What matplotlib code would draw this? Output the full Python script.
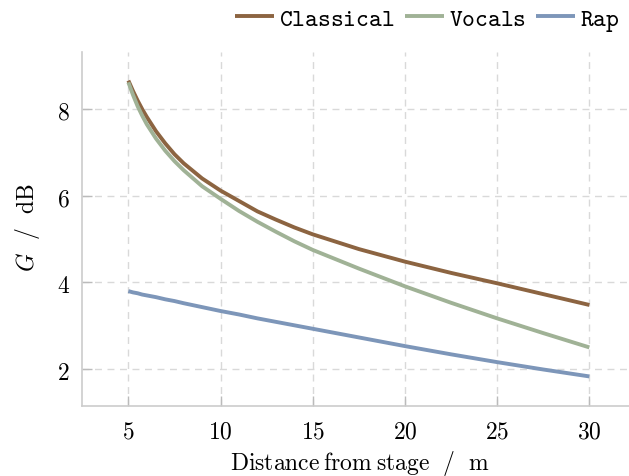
import matplotlib
matplotlib.use("Agg")
import matplotlib.pyplot as plt

plt.rcParams["mathtext.fontset"] = "cm"

# Distance from the stage (m)
distance = [5, 5.25, 5.5, 5.75, 6, 6.5, 7, 7.5, 8, 9, 10, 11, 12, 13, 14, 15,
            17.5, 20, 22.5, 25, 27.5, 30]

# Strength G (dB) per programme type
classical = [8.66, 8.42, 8.20, 8.00, 7.82, 7.49, 7.21, 6.96, 6.75, 6.40, 6.12,
             5.88, 5.64, 5.45, 5.27, 5.11, 4.77, 4.48, 4.22, 3.98, 3.73, 3.48]
vocals = [8.62, 8.33, 8.07, 7.85, 7.65, 7.32, 7.04, 6.80, 6.59, 6.22, 5.93,
          5.65, 5.40, 5.17, 4.95, 4.75, 4.32, 3.91, 3.53, 3.17, 2.83, 2.50]
rap = [3.80, 3.77, 3.75, 3.72, 3.70, 3.66, 3.61, 3.57, 3.52, 3.43, 3.34,
       3.26, 3.17, 3.09, 3.01, 2.93, 2.73, 2.53, 2.34, 2.16, 1.99, 1.83]

series_names = ["Classical", "Vocals", "Rap"]
series_colors = ["#8c6441", "#a0b296", "#7d96b9"]
x_ticks = [5, 10, 15, 20, 25, 30]
y_ticks = [2, 4, 6, 8]

FS = 17

fig = plt.figure(figsize=(6.29, 4.77), dpi=100)
ax = fig.add_axes([0.1308, 0.1461, 0.8692, 0.7428])

for name, vals, col in zip(series_names, [classical, vocals, rap], series_colors):
    ax.plot(distance, vals, color=col, lw=2.8, solid_capstyle="butt",
            solid_joinstyle="round", label=r"$\mathtt{%s}$" % name)

ax.set_xlim(2.5, 32.15)
ax.set_ylim(1.14, 9.32)
ax.set_xticks(x_ticks)
ax.set_xticklabels([r"$%d$" % t for t in x_ticks])
ax.set_yticks(y_ticks)
ax.set_yticklabels([r"$%d$" % t for t in y_ticks])

ax.grid(True, color="#d9d9d9", linestyle=(0, (5, 4)), linewidth=1.0)
ax.set_axisbelow(True)
for s in ["top", "right"]:
    ax.spines[s].set_visible(False)
for s in ["left", "bottom"]:
    ax.spines[s].set_color("#cccccc")
    ax.spines[s].set_linewidth(1.2)

ax.tick_params(axis="both", direction="in", length=7, width=1.0,
               color="#bbbbbb", labelsize=FS)
ax.tick_params(axis="x", pad=9)
ax.tick_params(axis="y", pad=9)

ax.set_xlabel(r"$\mathrm{Distance\:from\:stage\ \ /\ \ m}$", fontsize=FS)
ax.xaxis.set_label_coords(0.507, -0.1177)
ax.xaxis.label.set_va("top")
ax.set_ylabel(r"$G\ \ /\ \ \mathrm{dB}$", fontsize=FS)
ax.yaxis.set_label_coords(-0.0737, 0.506)

fig.legend(*ax.get_legend_handles_labels(), loc="center right",
           bbox_to_anchor=(620 / 629, 1 - 20.5 / 477), ncol=3, frameon=False,
           fontsize=17.5, handlelength=1.6, handletextpad=0.22, columnspacing=0.42,
           borderaxespad=0.0, borderpad=0.0)

fig.savefig("out.png", dpi=100)
